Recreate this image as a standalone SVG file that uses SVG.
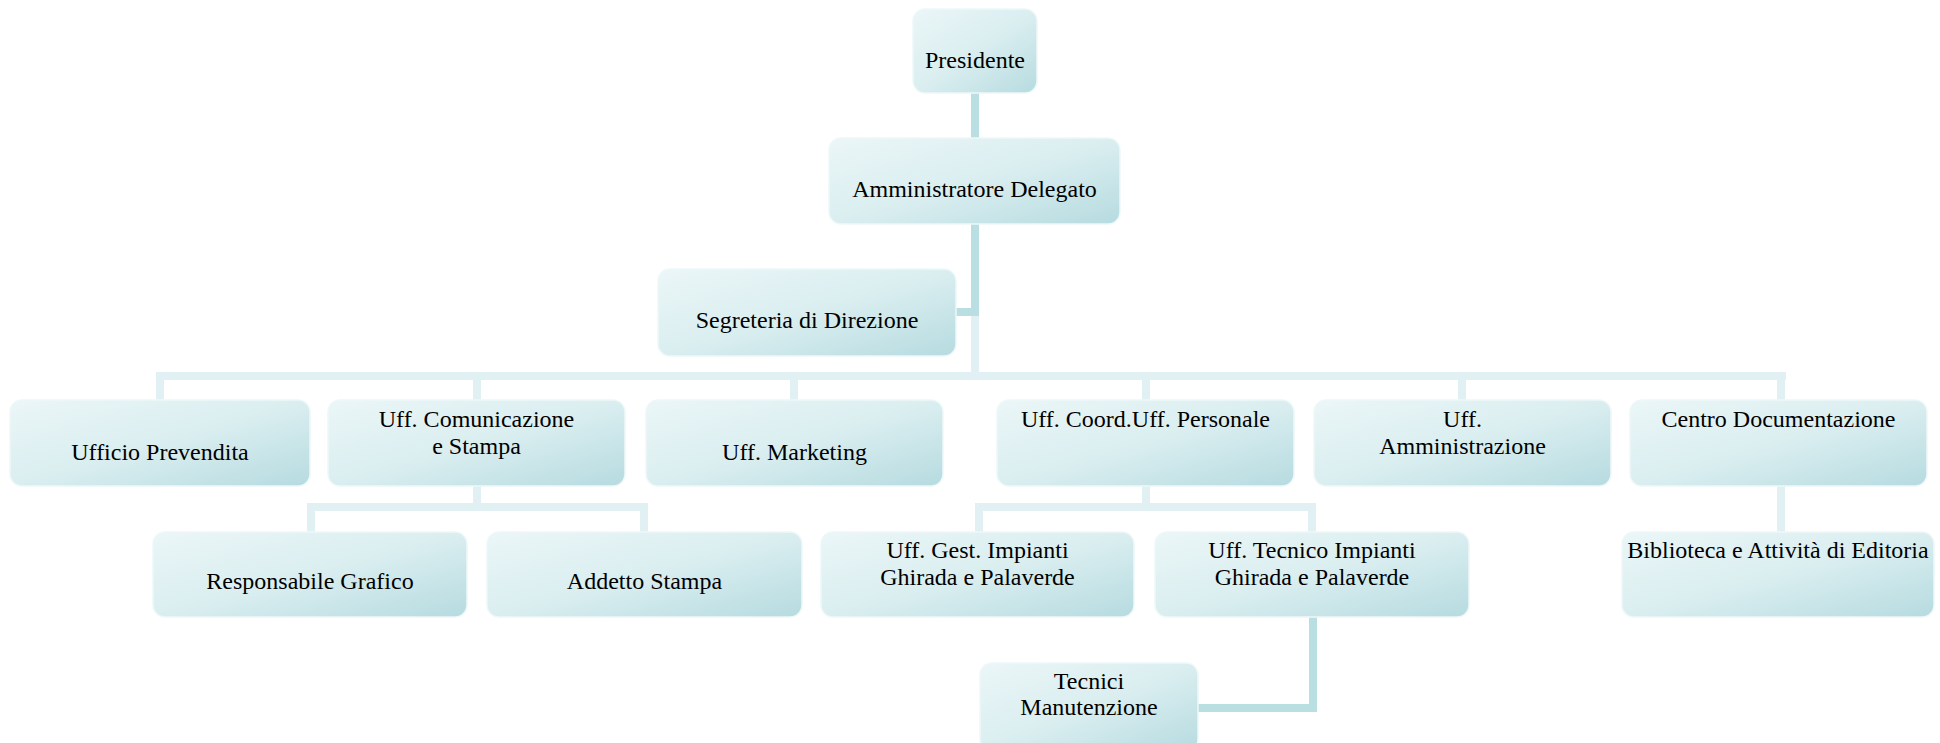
<svg xmlns="http://www.w3.org/2000/svg" width="1940" height="743" viewBox="0 0 1940 743">
<style>
.box{fill:url(#g);stroke:#eef8f9;stroke-width:1.5}
.t{font-family:"Liberation Serif","Times New Roman",serif;font-size:24px;fill:#000;text-anchor:middle}
.dk{fill:#b9dfe3}
.lt{fill:#e1f1f3}
</style>
<defs>
<linearGradient id="g" x1="0" y1="0" x2="1" y2="1">
<stop offset="0" stop-color="#ebf6f7"/>
<stop offset="0.5" stop-color="#daeef0"/>
<stop offset="1" stop-color="#b6dbe0"/>
</linearGradient>
</defs>
<rect width="1940" height="743" fill="#fff"/>
<g id="connectors">
<rect class="dk" x="971" y="92" width="8" height="48"/>
<rect class="dk" x="971" y="223" width="8" height="93"/>
<rect class="dk" x="954" y="308" width="21" height="8"/>
<rect class="lt" x="971" y="316" width="8" height="60"/>
<rect class="lt" x="156" y="372" width="1630" height="8"/>
<rect class="lt" x="156" y="376" width="8" height="25"/>
<rect class="lt" x="473" y="376" width="8" height="25"/>
<rect class="lt" x="790" y="376" width="8" height="25"/>
<rect class="lt" x="1142" y="376" width="8" height="25"/>
<rect class="lt" x="1458" y="376" width="8" height="25"/>
<rect class="lt" x="1777" y="376" width="8" height="25"/>
<rect class="lt" x="473" y="485" width="8" height="22"/>
<rect class="lt" x="307" y="503" width="341" height="8"/>
<rect class="lt" x="307" y="507" width="8" height="26"/>
<rect class="lt" x="640" y="507" width="8" height="26"/>
<rect class="lt" x="1142" y="485" width="8" height="22"/>
<rect class="lt" x="975" y="503" width="341" height="8"/>
<rect class="lt" x="975" y="507" width="8" height="26"/>
<rect class="lt" x="1308" y="507" width="8" height="26"/>
<rect class="dk" x="1309" y="616" width="8" height="96"/>
<rect class="dk" x="1197" y="704" width="120" height="8"/>
<rect class="lt" x="1777" y="485" width="8" height="48"/>
</g>
<g id="n-presidente"><rect class="box" x="913" y="9" width="124" height="84" rx="12"/><text class="t" x="975" y="68">Presidente</text></g>
<g id="n-amministratore"><rect class="box" x="829" y="138" width="291" height="86" rx="12"/><text class="t" x="974.5" y="197">Amministratore Delegato</text></g>
<g id="n-segreteria"><rect class="box" x="658" y="269" width="298" height="87" rx="12"/><text class="t" x="807" y="328">Segreteria di Direzione</text></g>
<g id="n-prevendita"><rect class="box" x="10" y="400" width="300" height="86" rx="12"/><text class="t" x="160" y="460">Ufficio Prevendita</text></g>
<g id="n-comunicazione"><rect class="box" x="328" y="400" width="297" height="86" rx="12"/><text class="t" x="476.5" y="427">Uff. Comunicazione</text><text class="t" x="476.5" y="454">e Stampa</text></g>
<g id="n-marketing"><rect class="box" x="646" y="400" width="297" height="86" rx="12"/><text class="t" x="794.5" y="460">Uff. Marketing</text></g>
<g id="n-coord"><rect class="box" x="997" y="400" width="297" height="86" rx="12"/><text class="t" x="1145.5" y="427">Uff. Coord.Uff. Personale</text></g>
<g id="n-amministrazione"><rect class="box" x="1314" y="400" width="297" height="86" rx="12"/><text class="t" x="1462.5" y="427">Uff.</text><text class="t" x="1462.5" y="454">Amministrazione</text></g>
<g id="n-centro"><rect class="box" x="1630" y="400" width="297" height="86" rx="12"/><text class="t" x="1778.5" y="427">Centro Documentazione</text></g>
<g id="n-grafico"><rect class="box" x="153" y="532" width="314" height="85" rx="12"/><text class="t" x="310" y="589">Responsabile Grafico</text></g>
<g id="n-addetto"><rect class="box" x="487" y="532" width="315" height="85" rx="12"/><text class="t" x="644.5" y="589">Addetto Stampa</text></g>
<g id="n-gest"><rect class="box" x="821" y="532" width="313" height="85" rx="12"/><text class="t" x="977.5" y="558">Uff. Gest. Impianti</text><text class="t" x="977.5" y="585">Ghirada e Palaverde</text></g>
<g id="n-tecnico"><rect class="box" x="1155" y="532" width="314" height="85" rx="12"/><text class="t" x="1312" y="558">Uff. Tecnico Impianti</text><text class="t" x="1312" y="585">Ghirada e Palaverde</text></g>
<g id="n-biblioteca"><rect class="box" x="1622" y="532" width="312" height="85" rx="12"/><text class="t" x="1778" y="558">Biblioteca e Attività di Editoria</text></g>
<g id="n-tecnici"><rect class="box" x="980" y="663" width="218" height="88" rx="12"/><text class="t" x="1089" y="689">Tecnici</text><text class="t" x="1089" y="715">Manutenzione</text></g>
</svg>
